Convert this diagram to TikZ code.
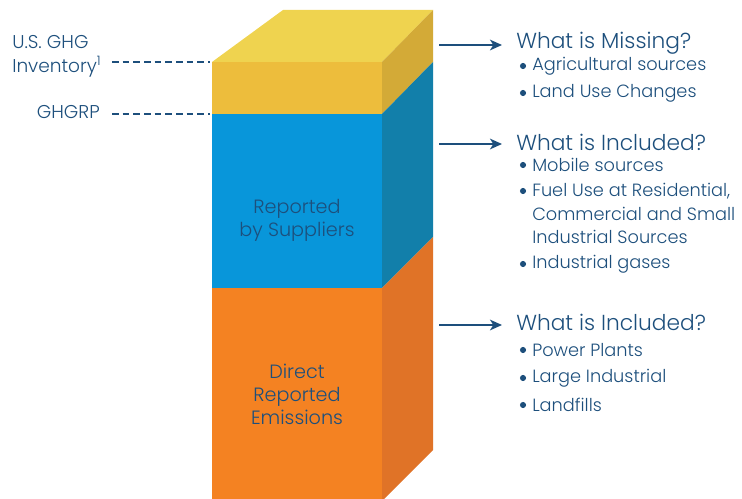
\documentclass[tikz,border=0pt]{standalone}
\usepackage{fontspec}
\setmainfont{Poppins Light}
\usetikzlibrary{arrows.meta}
\definecolor{ink}{HTML}{1D4F7C}
\definecolor{ytop}{HTML}{EFD34F}
\definecolor{yfront}{HTML}{EDBD3C}
\definecolor{yside}{HTML}{D3AA37}
\definecolor{bfront}{HTML}{0896DA}
\definecolor{bside}{HTML}{127FAA}
\definecolor{ofront}{HTML}{F48222}
\definecolor{oside}{HTML}{E07327}
\tikzset{
  lbl/.style={text=ink, inner sep=0pt, font=\fontsize{13.9pt}{18pt}\selectfont},
  blk/.style={text=ink, inner sep=0pt, align=center, font=\fontsize{14.4pt}{17.3pt}\selectfont},
  head/.style={text=ink, inner sep=0pt, anchor=west, font=\fontsize{16.3pt}{19pt}\selectfont},
  item/.style={text=ink, inner sep=0pt, anchor=west, font=\fontsize{13.3pt}{15pt}\selectfont},
  bul/.style={circle, fill=ink, inner sep=0pt, minimum size=4.6pt},
  dashline/.style={ink, line width=1.4pt, dash pattern=on 5pt off 3pt},
  arr/.style={ink, line width=1.4pt, -{Stealth[length=9pt,width=8pt,inset=2.5pt]}},
}
\begin{document}
\begin{tikzpicture}[x=0.75pt,y=-0.75pt]
\useasboundingbox (0,0) rectangle (742,499);
% block
\fill[ytop] (212,62) -- (382,62) -- (433,10) -- (283,10) -- cycle;
\fill[yfront] (212,62) rectangle (382,114);
\fill[yside] (382,62) -- (433,10) -- (433,62) -- (382,114) -- cycle;
\fill[bfront] (212,114) rectangle (382,288);
\fill[bside] (382,114) -- (433,62) -- (433,237) -- (382,288) -- cycle;
\fill[ofront] (212,288) rectangle (382,499);
\fill[oside] (382,288) -- (433,237) -- (433,450) -- (382,501) -- cycle;
% block labels
\node[blk] (sup) at (297,220) {Reported\\by Suppliers};
\node[blk] (dir) at (297,394) {Direct\\Reported\\Emissions};
% left labels
\node[lbl, anchor=north west, align=left] (inv) at (12,35) {U.S. GHG\\Inventory\textsuperscript{1}};
\node[lbl, anchor=east] (ghgrp) at (100,112) {GHGRP};
\coordinate (d1s) at (112,62); \coordinate (d1e) at (210,62);
\coordinate (d2s) at (112,114); \coordinate (d2e) at (210,114);
\draw[dashline] (d1s) -- (d1e);
\draw[dashline] (d2s) -- (d2e);
% arrows
\coordinate (a1s) at (439,45); \coordinate (a1e) at (502,45);
\coordinate (a2s) at (439,144); \coordinate (a2e) at (502,144);
\coordinate (a3s) at (439,325); \coordinate (a3e) at (502,325);
\draw[arr] (a1s) -- (a1e);
\draw[arr] (a2s) -- (a2e);
\draw[arr] (a3s) -- (a3e);
% right texts
\node[head] (h1) at (516,43) {What is Missing?};
\node[bul] (b11) at (523,66) {};
\node[item] (i11) at (532,66) {Agricultural sources};
\node[bul] (b12) at (523,93) {};
\node[item] (i12) at (532,93) {Land Use Changes};

\node[head] (h2) at (516,142) {What is Included?};
\node[bul] (b21) at (523,165) {};
\node[item] (i21) at (532,165) {Mobile sources};
\node[bul] (b22) at (523,191) {};
\node[item] (i22) at (532,191) {Fuel Use at Residential,};
\node[item] (i23) at (532,214) {Commercial and Small};
\node[item] (i24) at (532,237) {Industrial Sources};
\node[bul] (b25) at (523,264) {};
\node[item] (i25) at (532,264) {Industrial gases};

\node[head] (h3) at (516,322) {What is Included?};
\node[bul] (b31) at (523,350) {};
\node[item] (i31) at (532,350) {Power Plants};
\node[bul] (b32) at (523,378) {};
\node[item] (i32) at (532,378) {Large Industrial};
\node[bul] (b33) at (523,405) {};
\node[item] (i33) at (532,405) {Landfills};
\end{tikzpicture}
\end{document}
